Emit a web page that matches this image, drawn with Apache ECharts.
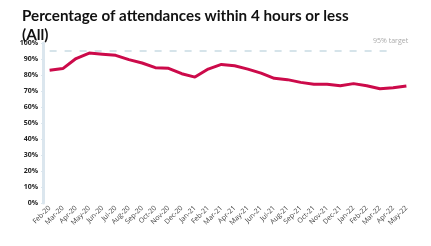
<!DOCTYPE html>
<html><head><meta charset="utf-8">
<script src="https://cdn.jsdelivr.net/npm/echarts@6/dist/echarts.min.js"></script>
<style>html,body{margin:0;padding:0;background:#fff}#c{width:431px;height:246px}</style>
</head><body><div id="c"></div>
<script>
const categories = ['Feb-20','Mar-20','Apr-20','May-20','Jun-20','Jul-20','Aug-20','Sep-20','Oct-20','Nov-20','Dec-20','Jan-21','Feb-21','Mar-21','Apr-21','May-21','Jun-21','Jul-21','Aug-21','Sep-21','Oct-21','Nov-21','Dec-21','Jan-22','Feb-22','Mar-22','Apr-22','May-22'];
const percentValues = [82.9,84.0,90.3,93.7,93.0,92.3,89.6,87.5,84.6,84.2,80.8,78.7,83.7,86.6,85.8,83.7,81.2,77.9,77.1,75.4,74.2,74.2,73.3,74.6,73.3,71.4,72.0,73.1];
const targetValue = 95;
const targetLabel = '95% target';
const titleText = 'Percentage of attendances within 4 hours or less\n(All)';

const chart = echarts.init(document.getElementById('c'), null, {renderer:'canvas'});
chart.setOption({
  animation:false,
  title:{text:titleText,left:17,top:2,textStyle:{fontFamily:'Lato',fontWeight:'bold',fontSize:15.2,color:'#111',lineHeight:19}},
  grid:{left:43,top:43,width:370,height:160,containLabel:false},
  xAxis:{type:'category',data:categories,boundaryGap:true,
    axisLine:{show:false},axisTick:{show:false},
    axisLabel:{rotate:45,interval:0,fontSize:7,color:'#444',fontFamily:'Open Sans',margin:4}},
  yAxis:{type:'value',min:0,max:100,interval:10,
    axisLine:{show:true,lineStyle:{color:'#dbe6ee',width:3}},
    axisTick:{show:true,length:2,lineStyle:{color:'#dbe6ee'}},
    splitLine:{show:false},
    axisLabel:{formatter:'{value}%',fontSize:7,fontWeight:'bold',color:'#222',fontFamily:'Open Sans',margin:5}},
  series:[{type:'line',data:percentValues,symbol:'none',smooth:false,
    lineStyle:{color:'#cc0a4a',width:3},
    markLine:{silent:true,symbol:'none',
      lineStyle:{color:'#d6e4ea',type:[7,8],width:2},
      label:{show:true,position:'insideEndTop',formatter:targetLabel,fontSize:7,color:'#aaa',fontFamily:'Open Sans',distance:[-15,7]},
      data:[[{coord:[categories[0],targetValue]},{coord:[categories[categories.length-2],targetValue]}]]}
  }]
});
</script></body></html>
